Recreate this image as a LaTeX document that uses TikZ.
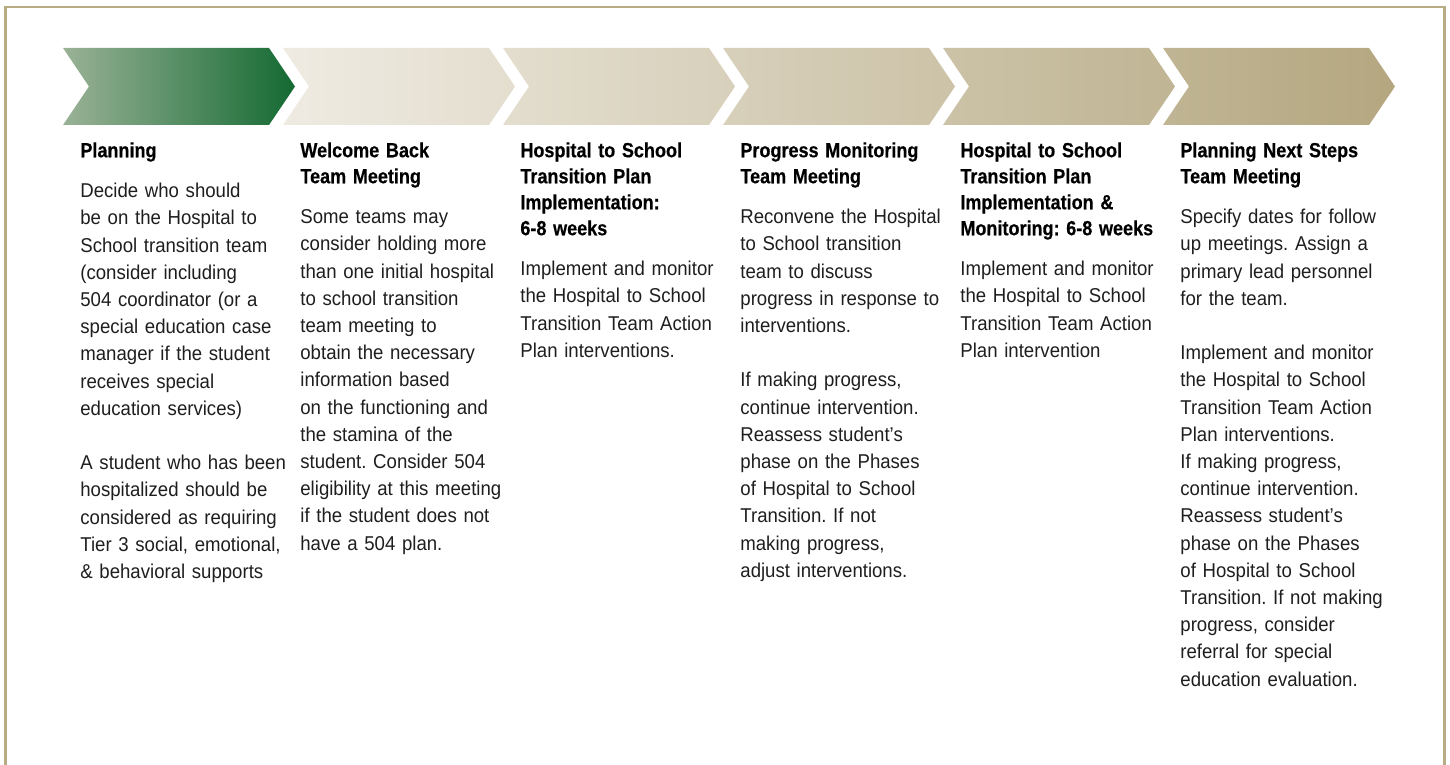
\documentclass[tikz,border=0pt]{standalone}
\usepackage{fontspec}
\setmainfont{Liberation Sans}[FakeStretch=0.93]
\newfontfamily\headfont{Liberation Sans}[FakeStretch=0.88, BoldFeatures={FakeBold=0.4}]
\usetikzlibrary{shapes.symbols, positioning}
\definecolor{greenlight}{RGB}{154,178,150}
\definecolor{greendark}{RGB}{20,106,50}
\definecolor{beigelight}{RGB}{239,235,226}
\definecolor{beigedark}{RGB}{180,167,128}
\definecolor{framegold}{RGB}{184,172,133}
\definecolor{textgray}{RGB}{30,30,30}
\setlength{\parindent}{0pt}
\frenchspacing
\newcommand{\stephead}[1]{{\headfont\bfseries\fontsize{10.25pt}{13pt}\selectfont\color{black}#1\par}\vspace{6.65pt}}

\begin{document}
\begin{tikzpicture}[
        x=0.5pt, y=-0.5pt,
        chev/.style={signal, signal from=west, signal to=east, signal pointer angle=112, minimum width=116pt, minimum height=38.5pt, inner sep=0pt, draw=none},
        col/.style={anchor=north west, text width=110pt, align=left, inner sep=0pt, text=textgray, font=\fontsize{10pt}{13.6pt}\selectfont}
    ]
        \useasboundingbox (0,0) rectangle (1450,765);
        \draw[framegold, line width=1.25pt] (5.5,775) -- (5.5,7) -- (1444.5,7) -- (1444.5,775);

        \node[chev, left color=greenlight, right color=greendark] (ch1) at (179,86.5) {};
        \node[chev, right=6.5pt of ch1, left color=beigelight, right color=beigedark!20!beigelight] (ch2) {};
        \node[chev, right=6.5pt of ch2, left color=beigedark!20!beigelight, right color=beigedark!40!beigelight] (ch3) {};
        \node[chev, right=6.5pt of ch3, left color=beigedark!40!beigelight, right color=beigedark!60!beigelight] (ch4) {};
        \node[chev, right=6.5pt of ch4, left color=beigedark!60!beigelight, right color=beigedark!80!beigelight] (ch5) {};
        \node[chev, right=6.5pt of ch5, left color=beigedark!80!beigelight, right color=beigedark] (ch6) {};

        \node[col] (planning) at (80,142) {\stephead{Planning}Decide who should\\ be on the Hospital to\\ School transition team\\ (consider including\\ 504 coordinator (or a\\ special education case\\ manager if the student\\ receives special\\ education services)\\[13.6pt] A student who has been\\ hospitalized should be\\ considered as requiring\\ Tier 3 social, emotional,\\ \& behavioral supports};
        \node[col] (welcome) at (300,142) {\stephead{Welcome Back\\ Team Meeting}Some teams may\\ consider holding more\\ than one initial hospital\\ to school transition\\ team meeting to\\ obtain the necessary\\ information based\\ on the functioning and\\ the stamina of the\\ student. Consider 504\\ eligibility at this meeting\\ if the student does not\\ have a 504 plan.};
        \node[col] (implement) at (520,142) {\stephead{Hospital to School\\ Transition Plan\\ Implementation:\\ 6-8 weeks}Implement and monitor\\ the Hospital to School\\ Transition Team Action\\ Plan interventions.};
        \node[col] (progress) at (740,142) {\stephead{Progress Monitoring\\ Team Meeting}Reconvene the Hospital\\ to School transition\\ team to discuss\\ progress in response to\\ interventions.\\[13.6pt] If making progress,\\ continue intervention.\\ Reassess student’s\\ phase on the Phases\\ of Hospital to School\\ Transition. If not\\ making progress,\\ adjust interventions.};
        \node[col] (monitoring) at (960,142) {\stephead{Hospital to School\\ Transition Plan\\ Implementation \&\\ Monitoring: 6-8 weeks}Implement and monitor\\ the Hospital to School\\ Transition Team Action\\ Plan intervention};
        \node[col] (nextsteps) at (1180,142) {\stephead{Planning Next Steps\\ Team Meeting}Specify dates for follow\\ up meetings. Assign a\\ primary lead personnel\\ for the team.\\[13.6pt] Implement and monitor\\ the Hospital to School\\ Transition Team Action\\ Plan interventions.\\ If making progress,\\ continue intervention.\\ Reassess student’s\\ phase on the Phases\\ of Hospital to School\\ Transition. If not making\\ progress, consider\\ referral for special\\ education evaluation.};
    \end{tikzpicture}
\end{document}
